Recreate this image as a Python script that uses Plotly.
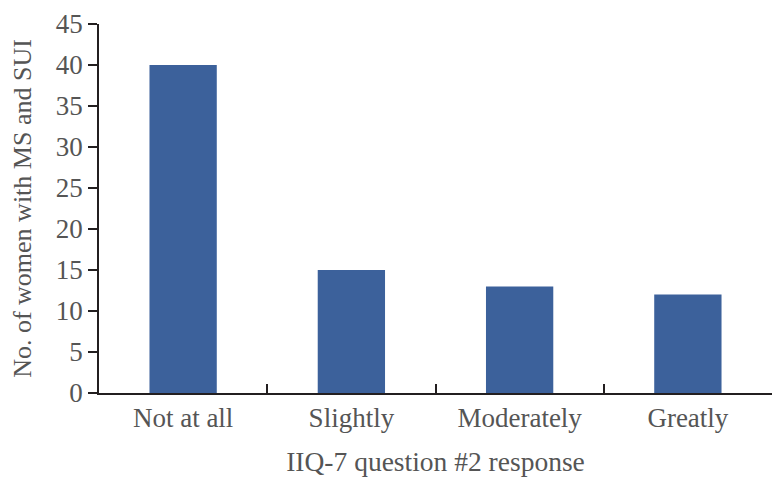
import plotly.graph_objects as go

categories = ["Not at all", "Slightly", "Moderately", "Greatly"]
counts = [40, 15, 13, 12]
y_ticks = [0, 5, 10, 15, 20, 25, 30, 35, 40, 45]

FONT = "Liberation Serif"
TXT = "#555555"
AX = "#231f20"

fig = go.Figure(go.Bar(
    x=categories, y=counts, width=0.4,
    marker=dict(color="#3c619b", line=dict(width=0)),
))

# page body has an 8px margin, so the figure is sized to fit the 782x487 window
fig.update_layout(
    width=774, height=479,
    margin=dict(l=91, r=10, t=16, b=94),
    paper_bgcolor="white", plot_bgcolor="white",
    font=dict(family=FONT, color=TXT, size=27),
    showlegend=False,
)
fig.update_xaxes(
    automargin=False,
    showline=True, linecolor=AX, linewidth=1.5,
    ticks="inside", tickson="boundaries", ticklen=9, tickcolor=AX, tickwidth=1.5,
    showgrid=False,
    tickfont=dict(size=27, family=FONT, color=TXT),
    title=dict(text="IIQ-7 question #2 response", font=dict(size=27.5, family=FONT, color=TXT), standoff=20),
)
fig.update_yaxes(
    automargin=False,
    range=[0, 45], tickvals=y_ticks,
    showline=True, linecolor=AX, linewidth=1.5,
    ticks="outside", ticklen=9, tickcolor=AX, tickwidth=1.5,
    showgrid=False, zeroline=False,
    tickfont=dict(size=27, family=FONT, color=TXT),
    title=dict(text="No. of women with MS and SUI", font=dict(size=26, family=FONT, color=TXT), standoff=20),
)

fig.write_html("out.html")
